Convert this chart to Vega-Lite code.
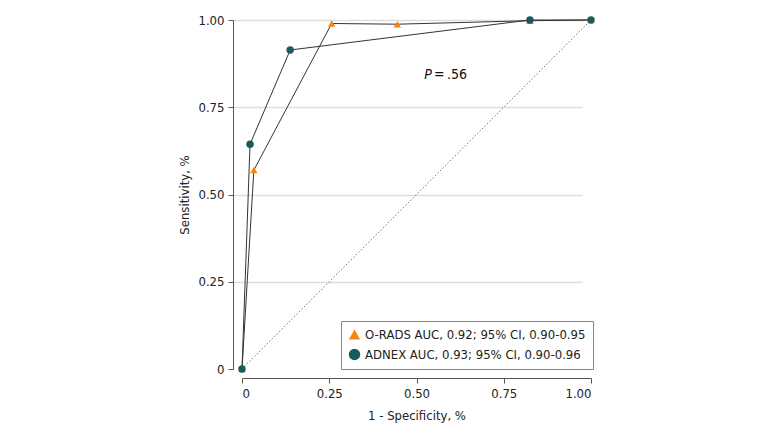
{
  "$schema": "https://vega.github.io/schema/vega-lite/v6.json",
  "autosize": "none",
  "width": 349,
  "height": 349,
  "padding": {"left": 242, "top": 20, "right": 189, "bottom": 63},
  "background": "white",
  "config": {
    "font": "DejaVu Sans Condensed",
    "view": {"stroke": null},
    "axis": {
      "labelFont": "DejaVu Sans Condensed",
      "titleFont": "DejaVu Sans Condensed",
      "labelFontSize": 13,
      "titleFontSize": 13,
      "titleFontWeight": "normal",
      "labelColor": "#222",
      "titleColor": "#222",
      "domainColor": "#555",
      "tickColor": "#555",
      "tickSize": 5,
      "offset": 9,
      "gridColor": "#dddddd",
      "gridWidth": 1.5
    },
    "legend": {
      "labelFont": "DejaVu Sans Condensed",
      "labelFontSize": 13,
      "labelColor": "#222",
      "labelLimit": 0
    }
  },
  "datasets": {
    "roc": [
      {"series": "O-RADS AUC, 0.92; 95% CI, 0.90-0.95", "fpr": 0, "tpr": 0, "ord": 0},
      {"series": "O-RADS AUC, 0.92; 95% CI, 0.90-0.95", "fpr": 0.034, "tpr": 0.57, "ord": 1},
      {"series": "O-RADS AUC, 0.92; 95% CI, 0.90-0.95", "fpr": 0.257, "tpr": 0.99, "ord": 2},
      {"series": "O-RADS AUC, 0.92; 95% CI, 0.90-0.95", "fpr": 0.445, "tpr": 0.988, "ord": 3},
      {"series": "O-RADS AUC, 0.92; 95% CI, 0.90-0.95", "fpr": 0.825, "tpr": 0.998, "ord": 4},
      {"series": "O-RADS AUC, 0.92; 95% CI, 0.90-0.95", "fpr": 1, "tpr": 1, "ord": 5},
      {"series": "ADNEX AUC, 0.93; 95% CI, 0.90-0.96", "fpr": 0, "tpr": 0, "ord": 0},
      {"series": "ADNEX AUC, 0.93; 95% CI, 0.90-0.96", "fpr": 0.023, "tpr": 0.644, "ord": 1},
      {"series": "ADNEX AUC, 0.93; 95% CI, 0.90-0.96", "fpr": 0.138, "tpr": 0.914, "ord": 2},
      {"series": "ADNEX AUC, 0.93; 95% CI, 0.90-0.96", "fpr": 0.825, "tpr": 1.0, "ord": 3},
      {"series": "ADNEX AUC, 0.93; 95% CI, 0.90-0.96", "fpr": 1, "tpr": 1, "ord": 4}
    ],
    "diag": [{"x": 0, "y": 0, "x2": 1, "y2": 1}],
    "ann": [{"x": 0.544, "y": 0.842, "t": "P"}, {"x": 0.55, "y": 0.842, "t": "=\u2009.56"}]
  },
  "layer": [
    {
      "data": {"name": "diag"},
      "mark": {"type": "rule", "color": "#777", "strokeDash": [1.5, 2], "strokeWidth": 1},
      "encoding": {
        "x": {"field": "x", "type": "quantitative", "scale": {"domain": [0, 1]},
          "axis": {"values": [0, 0.25, 0.5, 0.75, 1], "grid": false, "title": "1 - Specificity, %",
            "labelExpr": "datum.value == 0 ? '0' : format(datum.value, '.2f')", "titlePadding": 9, "labelPadding": 4}},
        "y": {"field": "y", "type": "quantitative", "scale": {"domain": [0, 1]},
          "axis": {"values": [0, 0.25, 0.5, 0.75, 1], "title": "Sensitivity, %",
            "labelExpr": "datum.value == 0 ? '0' : format(datum.value, '.2f')",
            "gridOpacity": {"condition": {"test": "datum.value === 0", "value": 0}, "value": 1},
            "titlePadding": 6, "labelPadding": 4}},
        "x2": {"field": "x2"},
        "y2": {"field": "y2"}
      }
    },
    {
      "data": {"name": "roc"},
      "mark": {"type": "line", "color": "#333", "strokeWidth": 1},
      "encoding": {
        "x": {"field": "fpr", "type": "quantitative"},
        "y": {"field": "tpr", "type": "quantitative"},
        "detail": {"field": "series"},
        "order": {"field": "ord"}
      }
    },
    {
      "data": {"name": "roc"},
      "mark": {"type": "point", "filled": true, "opacity": 1, "size": 55},
      "encoding": {
        "x": {"field": "fpr", "type": "quantitative"},
        "y": {"field": "tpr", "type": "quantitative"},
        "color": {"field": "series", "type": "nominal",
          "scale": {"domain": ["O-RADS AUC, 0.92; 95% CI, 0.90-0.95", "ADNEX AUC, 0.93; 95% CI, 0.90-0.96"], "range": ["#F7860F", "#1B5A5C"]},
          "legend": {"title": null, "orient": "none", "legendX": 99, "legendY": 301, "strokeColor": "#888", "padding": 7, "symbolSize": 130, "rowPadding": 6, "symbolOpacity": 1}},
        "shape": {"field": "series", "type": "nominal",
          "scale": {"domain": ["O-RADS AUC, 0.92; 95% CI, 0.90-0.95", "ADNEX AUC, 0.93; 95% CI, 0.90-0.96"], "range": ["triangle-up", "circle"]},
          "legend": null}
      }
    },
    {
      "data": {"name": "ann"},
      "transform": [{"filter": "datum.t == 'P'"}],
      "mark": {"type": "text", "fontStyle": "italic", "fontSize": 14, "color": "#111", "align": "right", "baseline": "middle"},
      "encoding": {
        "x": {"field": "x", "type": "quantitative"},
        "y": {"field": "y", "type": "quantitative"},
        "text": {"field": "t"}
      }
    },
    {
      "data": {"name": "ann"},
      "transform": [{"filter": "datum.t != 'P'"}],
      "mark": {"type": "text", "fontSize": 14, "color": "#111", "align": "left", "baseline": "middle"},
      "encoding": {
        "x": {"field": "x", "type": "quantitative"},
        "y": {"field": "y", "type": "quantitative"},
        "text": {"field": "t"}
      }
    }
  ]
}
